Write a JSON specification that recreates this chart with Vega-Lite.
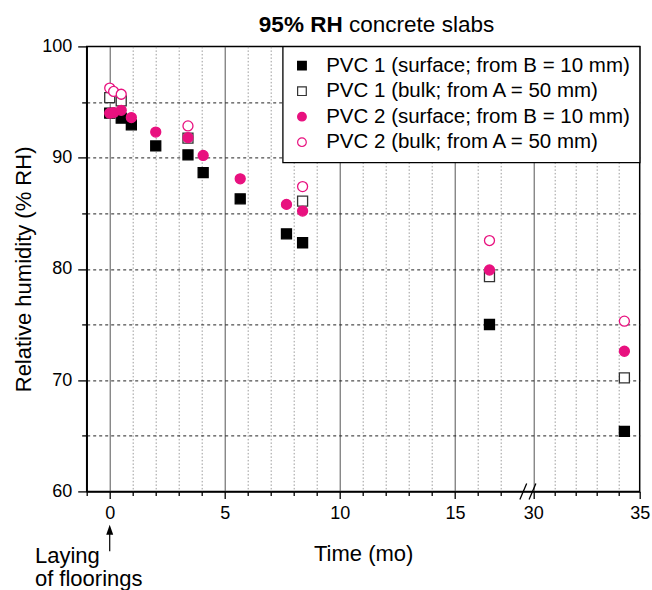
{
  "$schema": "https://vega.github.io/schema/vega-lite/v6.json",
  "width": 553,
  "height": 445,
  "autosize": {"type": "none"},
  "padding": {"left": 86.7, "top": 46.4, "right": 12.3, "bottom": 98.6},
  "background": "white",
  "config": {
    "font": "Liberation Sans",
    "view": {"stroke": "black", "strokeWidth": 1.5},
    "axis": {
      "labelFont": "Liberation Sans",
      "labelColor": "black",
      "labelFontSize": 18,
      "titleFont": "Liberation Sans",
      "titleColor": "black",
      "titleFontWeight": "normal",
      "titleFontSize": 22,
      "domainColor": "black",
      "domainWidth": 1.5,
      "tickColor": "black",
      "tickWidth": 1.3
    },
    "legend": {
      "orient": "top-right",
      "offset": 0,
      "fillColor": "white",
      "strokeColor": "black",
      "strokeWidth": 1.3,
      "padding": 9,
      "rowPadding": 4.5,
      "labelFont": "Liberation Sans",
      "labelFontSize": 20.5,
      "labelColor": "black",
      "labelOffset": 14,
      "labelLimit": 600,
      "symbolSize": 75,
      "symbolStrokeWidth": 1.2,
      "cornerRadius": 0
    }
  },
  "layer": [
    {
      "data": {
        "values": [
          {"series": "PVC 1 (surface; from B = 10 mm)", "month": 0, "rh": 94.0},
          {"series": "PVC 1 (surface; from B = 10 mm)", "month": 0.5, "rh": 93.55},
          {"series": "PVC 1 (surface; from B = 10 mm)", "month": 0.94, "rh": 92.95},
          {"series": "PVC 1 (surface; from B = 10 mm)", "month": 2.0, "rh": 91.05},
          {"series": "PVC 1 (surface; from B = 10 mm)", "month": 3.4, "rh": 90.25},
          {"series": "PVC 1 (surface; from B = 10 mm)", "month": 4.06, "rh": 88.65},
          {"series": "PVC 1 (surface; from B = 10 mm)", "month": 5.67, "rh": 86.3},
          {"series": "PVC 1 (surface; from B = 10 mm)", "month": 7.68, "rh": 83.15},
          {"series": "PVC 1 (surface; from B = 10 mm)", "month": 8.38, "rh": 82.35},
          {"series": "PVC 1 (surface; from B = 10 mm)", "month": 16.5, "rh": 75.0},
          {"series": "PVC 1 (surface; from B = 10 mm)", "month": 34.28, "rh": 65.4},
          {"series": "PVC 1 (bulk; from A = 50 mm)", "month": 0, "rh": 95.4},
          {"series": "PVC 1 (bulk; from A = 50 mm)", "month": 0.5, "rh": 95.1},
          {"series": "PVC 1 (bulk; from A = 50 mm)", "month": 3.4, "rh": 91.75},
          {"series": "PVC 1 (bulk; from A = 50 mm)", "month": 8.38, "rh": 86.1},
          {"series": "PVC 1 (bulk; from A = 50 mm)", "month": 16.5, "rh": 79.3},
          {"series": "PVC 1 (bulk; from A = 50 mm)", "month": 34.28, "rh": 70.2},
          {"series": "PVC 2 (surface; from B = 10 mm)", "month": 0, "rh": 94.0},
          {"series": "PVC 2 (surface; from B = 10 mm)", "month": 0.17, "rh": 94.05},
          {"series": "PVC 2 (surface; from B = 10 mm)", "month": 0.5, "rh": 94.25},
          {"series": "PVC 2 (surface; from B = 10 mm)", "month": 0.94, "rh": 93.6},
          {"series": "PVC 2 (surface; from B = 10 mm)", "month": 2.0, "rh": 92.3},
          {"series": "PVC 2 (surface; from B = 10 mm)", "month": 3.4, "rh": 91.8},
          {"series": "PVC 2 (surface; from B = 10 mm)", "month": 4.06, "rh": 90.2},
          {"series": "PVC 2 (surface; from B = 10 mm)", "month": 5.67, "rh": 88.1},
          {"series": "PVC 2 (surface; from B = 10 mm)", "month": 7.68, "rh": 85.8},
          {"series": "PVC 2 (surface; from B = 10 mm)", "month": 8.38, "rh": 85.2},
          {"series": "PVC 2 (surface; from B = 10 mm)", "month": 16.5, "rh": 79.9},
          {"series": "PVC 2 (surface; from B = 10 mm)", "month": 34.28, "rh": 72.6},
          {"series": "PVC 2 (bulk; from A = 50 mm)", "month": 0, "rh": 96.25},
          {"series": "PVC 2 (bulk; from A = 50 mm)", "month": 0.17, "rh": 95.95},
          {"series": "PVC 2 (bulk; from A = 50 mm)", "month": 0.5, "rh": 95.7},
          {"series": "PVC 2 (bulk; from A = 50 mm)", "month": 3.4, "rh": 92.85},
          {"series": "PVC 2 (bulk; from A = 50 mm)", "month": 8.38, "rh": 87.4},
          {"series": "PVC 2 (bulk; from A = 50 mm)", "month": 16.5, "rh": 82.55},
          {"series": "PVC 2 (bulk; from A = 50 mm)", "month": 34.28, "rh": 75.3}
        ]
      },
      "mark": {"type": "point", "opacity": 1, "fillOpacity": 1, "strokeWidth": 1.3, "size": 100},
      "encoding": {
        "x": {
          "field": "month",
          "type": "quantitative",
          "scale": {"domain": [-1, 18, 30, 35], "range": [0, 437.3, 446.6, 553], "nice": false, "zero": false},
          "axis": {
            "title": "Time (mo)",
            "values": [-1, 0, 1, 2, 3, 4, 5, 6, 7, 8, 9, 10, 11, 12, 13, 14, 15, 16, 17, 30, 31, 32, 33, 34, 35],
            "tickCount": 1000,
            "format": "d",
            "labelExpr": "indexof([0,5,10,15,30,35], datum.value) >= 0 ? datum.label : ''",
            "labelPadding": 6,
            "labelFlush": false,
            "labelOverlap": false,
            "tickSize": {"condition": {"test": "indexof([0,5,10,15,30,35], datum.value) >= 0", "value": 7}, "value": 4},
            "grid": true,
            "gridDash": {"condition": {"test": "indexof([0,5,10,15,30], datum.value) >= 0", "value": []}, "value": [1.5, 2]},
            "gridColor": {"condition": {"test": "indexof([0,5,10,15,30], datum.value) >= 0", "value": "#555555"}, "value": "#9a9a9a"},
            "gridWidth": 1,
            "gridOpacity": {"condition": {"test": "datum.value === -1 || datum.value === 35", "value": 0}, "value": 1},
            "titleBaseline": "alphabetic",
            "titleY": 69
          }
        },
        "y": {
          "field": "rh",
          "type": "quantitative",
          "scale": {"domain": [60, 100], "nice": false, "zero": false},
          "axis": {
            "title": "Relative humidity (% RH)",
            "values": [60, 65, 70, 75, 80, 85, 90, 95, 100],
            "tickCount": 1000,
            "format": "d",
            "labelExpr": "datum.value % 10 === 0 ? datum.label : ''",
            "labelPadding": 6,
            "labelFlush": false,
            "labelOverlap": false,
            "tickSize": {"condition": {"test": "datum.value % 10 === 0", "value": 9}, "value": 5},
            "grid": true,
            "gridDash": [3, 3],
            "gridColor": "#222222",
            "gridWidth": 1,
            "gridOpacity": {"condition": {"test": "datum.value === 60 || datum.value === 100", "value": 0}, "value": 1},
            "titleBaseline": "alphabetic",
            "titleX": -56
          }
        },
        "shape": {
          "field": "series",
          "type": "nominal",
          "scale": {
            "domain": ["PVC 1 (surface; from B = 10 mm)", "PVC 1 (bulk; from A = 50 mm)", "PVC 2 (surface; from B = 10 mm)", "PVC 2 (bulk; from A = 50 mm)"],
            "range": ["square", "square", "circle", "circle"]
          },
          "legend": {"title": null}
        },
        "fill": {
          "field": "series",
          "type": "nominal",
          "scale": {
            "domain": ["PVC 1 (surface; from B = 10 mm)", "PVC 1 (bulk; from A = 50 mm)", "PVC 2 (surface; from B = 10 mm)", "PVC 2 (bulk; from A = 50 mm)"],
            "range": ["#000000", "#ffffff", "#E8117F", "#ffffff"]
          },
          "legend": {"title": null}
        },
        "stroke": {
          "field": "series",
          "type": "nominal",
          "scale": {
            "domain": ["PVC 1 (surface; from B = 10 mm)", "PVC 1 (bulk; from A = 50 mm)", "PVC 2 (surface; from B = 10 mm)", "PVC 2 (bulk; from A = 50 mm)"],
            "range": ["#000000", "#333333", "#E8117F", "#E8117F"]
          },
          "legend": {"title": null}
        }
      }
    },
    {
      "data": {"values": [{}]},
      "mark": {"type": "text", "text": "95% RH", "fontWeight": "bold", "fontSize": 22.5, "align": "left", "baseline": "alphabetic", "font": "Liberation Sans", "color": "black"},
      "encoding": {"x": {"datum": 6.48}, "y": {"datum": 101.29}}
    },
    {
      "data": {"values": [{}]},
      "mark": {"type": "text", "text": "concrete slabs", "fontWeight": "normal", "fontSize": 22.5, "align": "left", "baseline": "alphabetic", "font": "Liberation Sans", "color": "black"},
      "encoding": {"x": {"datum": 10.4}, "y": {"datum": 101.29}}
    },
    {
      "data": {"values": [{}]},
      "mark": {"type": "text", "text": ["Laying", "of floorings"], "lineHeight": 23, "fontSize": 22, "align": "left", "baseline": "alphabetic", "font": "Liberation Sans", "color": "black"},
      "encoding": {"x": {"datum": -3.25}, "y": {"datum": 53.6}}
    },
    {
      "data": {"values": [{}]},
      "mark": {"type": "rule", "color": "black", "strokeWidth": 1.2},
      "encoding": {"x": {"datum": 0}, "y": {"datum": 54.61}, "y2": {"datum": 56.3}}
    },
    {
      "data": {"values": [{}]},
      "mark": {"type": "point", "shape": "M0,-1L0.7,1L-0.7,1Z", "filled": true, "color": "black", "opacity": 1, "size": 100},
      "encoding": {"x": {"datum": 0}, "y": {"datum": 56.56}}
    },
    {
      "data": {"values": [{}]},
      "mark": {"type": "point", "shape": "M-1,1L-0.15,-1M0.15,1L1,-1", "filled": false, "color": "black", "strokeWidth": 1.3, "opacity": 1, "size": 256},
      "encoding": {"x": {"datum": 23}, "y": {"datum": 60}}
    }
  ]
}
